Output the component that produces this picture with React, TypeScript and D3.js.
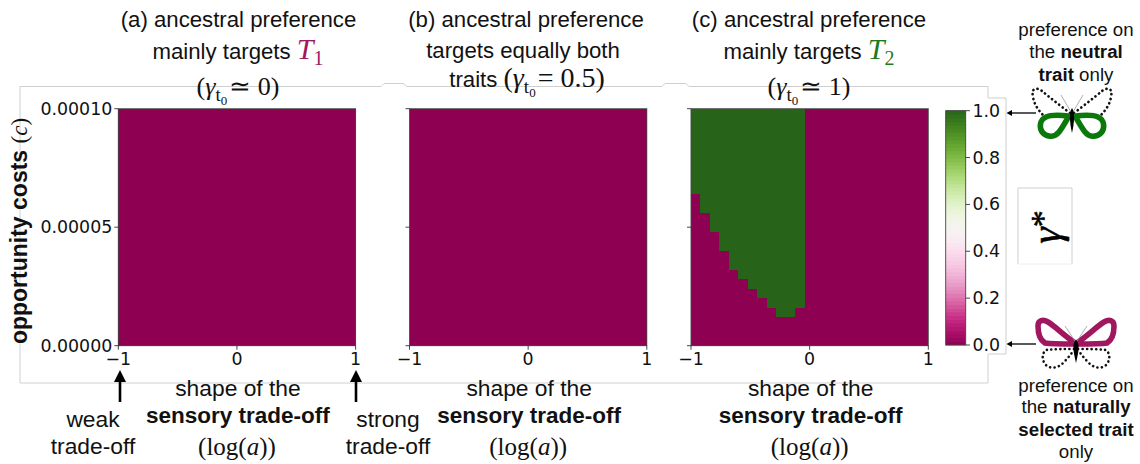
import React from "react";
import * as d3 from "d3";

// ---- data ----
const logATicks = [-1, 0, 1];
const costTicks = [0, 0.00005, 0.0001];
const costTickLabels = ["0.00000", "0.00005", "0.00010"];
const gammaTicks = [0, 0.2, 0.4, 0.6, 0.8, 1];
const gridSize = 25;
// number of cells from the top of each column where the evolved gamma* is 1
const greenRowsA = [0, 0, 0, 0, 0, 0, 0, 0, 0, 0, 0, 0, 0, 0, 0, 0, 0, 0, 0, 0, 0, 0, 0, 0, 0];
const greenRowsB = [0, 0, 0, 0, 0, 0, 0, 0, 0, 0, 0, 0, 0, 0, 0, 0, 0, 0, 0, 0, 0, 0, 0, 0, 0];
const greenRowsC = [9, 11, 13, 15, 17, 18, 19, 20, 21, 22, 22, 21, 0, 0, 0, 0, 0, 0, 0, 0, 0, 0, 0, 0, 0];

const SANS = "'Liberation Sans', Arial, sans-serif";
const SERIF = "'Liberation Serif', 'Times New Roman', serif";
const MPL = "'DejaVu Sans', sans-serif";
const INK = "#111";
const T1 = "#a0185f";
const T2 = "#1c7a1c";

const y0 = 345.7;
const y1 = 108.7;
const yScale = d3.scaleLinear().domain([0, 0.0001]).range([y0, y1]);
const cScale = d3.scaleLinear().domain([0, 1]).range([345, 110.7]);

function Heatmap({ left, rows, showY }: { left: number; rows: number[]; showY: boolean }) {
  const x = d3.scaleLinear().domain([-1, 1]).range([left, left + 237.3]);
  const step = 2 / gridSize;
  const yStep = 0.0001 / gridSize;
  return (
    <g>
      {rows.map((n, col) =>
        d3.range(gridSize).map((r) => {
          const v = r < n ? 1 : 0;
          const top = yScale(0.0001 - r * yStep);
          const bot = yScale(0.0001 - (r + 1) * yStep);
          const xa = x(-1 + col * step);
          const xb = x(-1 + (col + 1) * step);
          return (
            <rect key={col + "-" + r} x={xa} y={top} width={xb - xa} height={bot - top}
              fill={d3.interpolatePiYG(v)} shapeRendering="crispEdges" />
          );
        })
      )}
      <rect x={x(-1)} y={y1} width={237.3} height={y0 - y1} fill="none" stroke="#444" strokeWidth={0.9} />
      {costTicks.map((t, i) => (
        <g key={t}>
          <line x1={x(-1) - 4} x2={x(-1)} y1={yScale(t)} y2={yScale(t)} stroke="#333" strokeWidth={0.9} />
          {showY && (
            <text x={x(-1) - 6} y={yScale(t) + 6} textAnchor="end" fontFamily={MPL} fontSize={17.4} fill={INK}>
              {costTickLabels[i]}
            </text>
          )}
        </g>
      ))}
      {logATicks.map((t) => (
        <g key={t}>
          <line x1={x(t)} x2={x(t)} y1={y0} y2={y0 + 4} stroke="#333" strokeWidth={0.9} />
          <text x={x(t)} y={364.5} textAnchor="middle" fontFamily={MPL} fontSize={17.4} fill={INK}>
            {t < 0 ? "\u2212" + Math.abs(t) : String(t)}
          </text>
        </g>
      ))}
      <text x={x(0) + 1} y={395.5} textAnchor="middle" fontFamily={SANS} fontSize={22.8} fill={INK}>shape of the</text>
      <text x={x(0) + 1} y={423} textAnchor="middle" fontFamily={SANS} fontSize={22.5} fontWeight="bold" fill={INK}>sensory trade-off</text>
      <text x={x(0)} y={455} textAnchor="middle" fontFamily={SERIF} fontSize={25} fill={INK}>
        (log(<tspan fontStyle="italic">a</tspan>))
      </text>
    </g>
  );
}

function GammaExpr({ rest }: { rest: string }) {
  return (
    <>
      <tspan>(</tspan>
      <tspan fontStyle="italic">{"\u03B3"}</tspan>
      <tspan fontSize={19} dy={6} fontStyle="normal">t</tspan>
      <tspan fontSize={13} dy={4}>0</tspan>
      <tspan dy={-10} dx={2}>{rest}</tspan>
    </>
  );
}

function Arrow({ x, top, bottom }: { x: number; top: number; bottom: number }) {
  return (
    <g>
      <line x1={x} x2={x} y1={top + 8} y2={bottom} stroke="#000" strokeWidth={2.6} />
      <path d={`M${x},${top}L${x + 6},${top + 12}L${x - 6},${top + 12}Z`} fill="#000" />
    </g>
  );
}

function SideArrow({ y }: { y: number }) {
  return (
    <g>
      <line x1={1010} x2={1036} y1={y} y2={y} stroke="#222" strokeWidth={1.5} />
      <path d={`M1006.5,${y}L1012,${y - 3}L1012,${y + 3}Z`} fill="#000" />
    </g>
  );
}

function ButterflyTop() {
  const cx = 1072;
  const side = (k: number) => (
    <g key={k} transform={`translate(${cx},0) scale(${k},1)`}>
      <path d="M-2,113 C-14,104 -24,96 -30,91 C-36,87 -41,88 -39,97 C-38,104 -34,110 -28,116"
        fill="none" stroke="#111" strokeWidth={2.7} strokeDasharray="0.1 4.4" strokeLinecap="round" />
      <path d="M-3,116 C-12,115 -22,115 -26,117 C-33,120 -33,129 -29,133 C-24,138 -17,137 -13,132 C-9,127 -6,121 -3,116 Z"
        fill="none" stroke="#0b780b" strokeWidth={5.6} strokeLinejoin="round" />
      <path d="M-1,112 L-11,95" stroke="#999" strokeWidth={0.8} fill="none" />
    </g>
  );
  return (
    <g>
      {side(-1)}
      {side(1)}
      <path d={`M${cx},108 C${cx + 3},112 ${cx + 2.5},122 ${cx},133 C${cx - 2.5},122 ${cx - 3},112 ${cx},108Z`} fill="#000" />
    </g>
  );
}

function ButterflyBottom() {
  const cx = 1076;
  const side = (k: number) => (
    <g key={k} transform={`translate(${cx},0) scale(${k},1)`}>
      <path d="M-2,342 C-13,335 -21,326 -28,322 C-33,319 -38,320 -38,326 C-38,333 -36,340 -31,343 C-24,344 -10,344 -2,344 Z"
        fill="none" stroke="#a0175f" strokeWidth={5.6} strokeLinejoin="round" />
      <path d="M-2,349 C-12,349 -22,349 -30,350 C-35,354 -34,362 -29,366 C-24,369 -17,368 -12,362 C-8,358 -5,354 -2,350"
        fill="none" stroke="#111" strokeWidth={2.6} strokeDasharray="0.1 4.4" strokeLinecap="round" />
      <path d="M-1,341 L-11,326" stroke="#999" strokeWidth={0.8} fill="none" />
    </g>
  );
  return (
    <g>
      {side(-1)}
      {side(1)}
      <path d={`M${cx},340 C${cx + 4},344 ${cx + 3},350 ${cx},363 C${cx - 3},350 ${cx - 4},344 ${cx},340Z`} fill="#000" />
    </g>
  );
}

export default function App() {
  const bands = d3.range(0, 64);
  const bandH = (cScale(0) - cScale(1)) / bands.length;
  const guide = "#cfcfcf";
  return (
    <svg width={1140} height={464} style={{ position: "absolute", left: 0, top: 0, background: "#fff" }}>
      {/* faint outline behind the figure */}
      <path
        d="M20,383 V86.5 H381 L384,83.5 H403 L407,86.5 H662 L665,83.5 H686 L689,86.5 H988 V98 H1006 V354 H988 V383 Z"
        fill="none" stroke={guide} strokeWidth={1} />
      <path d="M1018,264 V188 H1072 V264" fill="none" stroke={guide} strokeWidth={1} />
      <line x1={1018} x2={1072} y1={264} y2={264} stroke="#eee" strokeWidth={1} />

      <Heatmap left={118.3} rows={greenRowsA} showY={true} />
      <Heatmap left={409.5} rows={greenRowsB} showY={false} />
      <Heatmap left={691} rows={greenRowsC} showY={false} />

      {/* titles */}
      <g fontFamily={SANS} fontSize={22.2} fill={INK} textAnchor="middle">
        <text x={238.5} y={27}>(a) ancestral preference</text>
        <text x={238} y={59}>
          mainly targets <tspan fontFamily={SERIF} fontStyle="italic" fontSize={30} fill={T1}>T</tspan>
          <tspan fontFamily={SERIF} fontSize={20} dy={6} fill={T1}>1</tspan>
        </text>
        <text x={238} y={95} fontFamily={SERIF} fontSize={26}>
          <GammaExpr rest={"\u2243 0)"} />
        </text>
        <text x={526} y={27}>(b) ancestral preference</text>
        <text x={523} y={58}>targets equally both</text>
        <text x={527} y={87}>
          traits <tspan fontFamily={SERIF} fontSize={28}><GammaExpr rest={"= 0.5)"} /></tspan>
        </text>
        <text x={809} y={27}>(c) ancestral preference</text>
        <text x={809} y={59}>
          mainly targets <tspan fontFamily={SERIF} fontStyle="italic" fontSize={30} fill={T2}>T</tspan>
          <tspan fontFamily={SERIF} fontSize={20} dy={6} fill={T2}>2</tspan>
        </text>
        <text x={809} y={95} fontFamily={SERIF} fontSize={26}>
          <GammaExpr rest={"\u2243 1)"} />
        </text>
      </g>

      {/* y label */}
      <text transform="translate(27,231) rotate(-90)" textAnchor="middle" fontFamily={SANS} fontSize={23} fontWeight="bold" fill={INK}>
        opportunity costs <tspan fontFamily={SERIF} fontWeight="normal">(<tspan fontStyle="italic">c</tspan>)</tspan>
      </text>

      {/* trade-off annotations */}
      <Arrow x={120} top={370} bottom={402} />
      <Arrow x={356} top={370} bottom={402} />
      <g fontFamily={SANS} fontSize={22.8} fill={INK} textAnchor="middle">
        <text x={93} y={427}>weak</text>
        <text x={93} y={454}>trade-off</text>
        <text x={388} y={427}>strong</text>
        <text x={388} y={454}>trade-off</text>
      </g>

      {/* colour bar */}
      {bands.map((b) => {
        const v = (b + 0.5) / bands.length;
        return (
          <rect key={b} x={945.7} width={20} y={cScale(b / bands.length) - bandH - 0.3} height={bandH + 0.6}
            fill={d3.interpolatePiYG(v)} />
        );
      })}
      <rect x={945.7} y={110.7} width={20} height={234.3} fill="none" stroke="#444" strokeWidth={0.9} />
      {gammaTicks.map((t) => (
        <g key={t}>
          <line x1={965.7} x2={970} y1={cScale(t)} y2={cScale(t)} stroke="#333" strokeWidth={0.9} />
          <text x={972.5} y={cScale(t) + 6} fontFamily={MPL} fontSize={17.4} fill={INK}>{t.toFixed(1)}</text>
        </g>
      ))}

      {/* gamma star */}
      <text transform="translate(1060,227) rotate(-90)" textAnchor="middle" fontFamily={SERIF} fontStyle="italic" fontSize={42} fill="#000" stroke="#000" strokeWidth={0.5}>
        {"\u03B3"}<tspan fontStyle="normal" dy={-6} fontSize={34}>*</tspan>
      </text>

      <SideArrow y={113} />
      <SideArrow y={344} />
      <ButterflyTop />
      <ButterflyBottom />

      <g fontFamily={SANS} fontSize={18.7} fill={INK} textAnchor="middle">
        <text x={1076} y={36}>preference on</text>
        <text x={1076} y={58}>the <tspan fontWeight="bold">neutral</tspan></text>
        <text x={1076} y={81}><tspan fontWeight="bold">trait</tspan> only</text>
        <text x={1076} y={392}>preference on</text>
        <text x={1076} y={413}>the <tspan fontWeight="bold">naturally</tspan></text>
        <text x={1076} y={436} fontWeight="bold">selected trait</text>
        <text x={1076} y={458}>only</text>
      </g>
    </svg>
  );
}
